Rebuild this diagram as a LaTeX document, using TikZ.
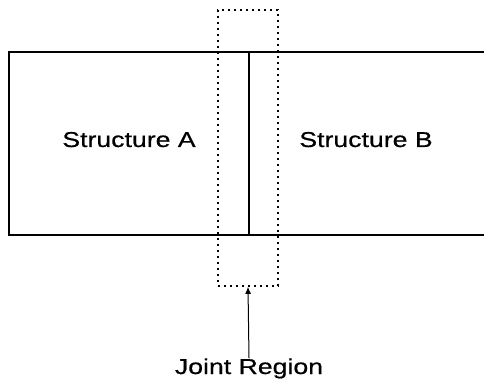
\documentclass[tikz,border=0pt]{standalone}
\usepackage{fontspec}
\setmainfont{Liberation Sans}[FakeStretch=1.24,FakeBold=0.6]
\usetikzlibrary{arrows.meta}
\begin{document}
\begin{tikzpicture}[x=1pt,y=-1pt,
  solidline/.style={line width=1.2pt, black},
  dotbox/.style={draw, line width=1.6pt, dash pattern=on 1.6pt off 4.4pt, minimum width=60pt, minimum height=276pt, inner sep=0pt},
  lbl/.style={font=\fontsize{21.5}{25}\selectfont, inner sep=0pt}]
\useasboundingbox (0,0) rectangle (484,382);
% structure outline
\coordinate (tr) at (484,52);
\coordinate (tl) at (9,52);
\coordinate (bl) at (9,235);
\coordinate (br) at (484,235);
\draw[solidline] (tr) -- (tl) -- (bl) -- (br);
% joint line
\coordinate (jt) at (249,52);
\coordinate (jb) at (249,235);
\draw[solidline] (jt) -- (jb);
% joint region box
\node[dotbox] (box) at (248,148) {};
% labels
\node[lbl, anchor=base] (sa) at (129,147) {Structure A};
\node[lbl, anchor=base] (sb) at (366,147) {Structure B};
\node[lbl, anchor=base] (jr) at (249,374) {Joint Region};
\draw[line width=1pt, -{Latex[length=7pt,width=6pt]}] (jr.north) -- (box.south);
\end{tikzpicture}
\end{document}
